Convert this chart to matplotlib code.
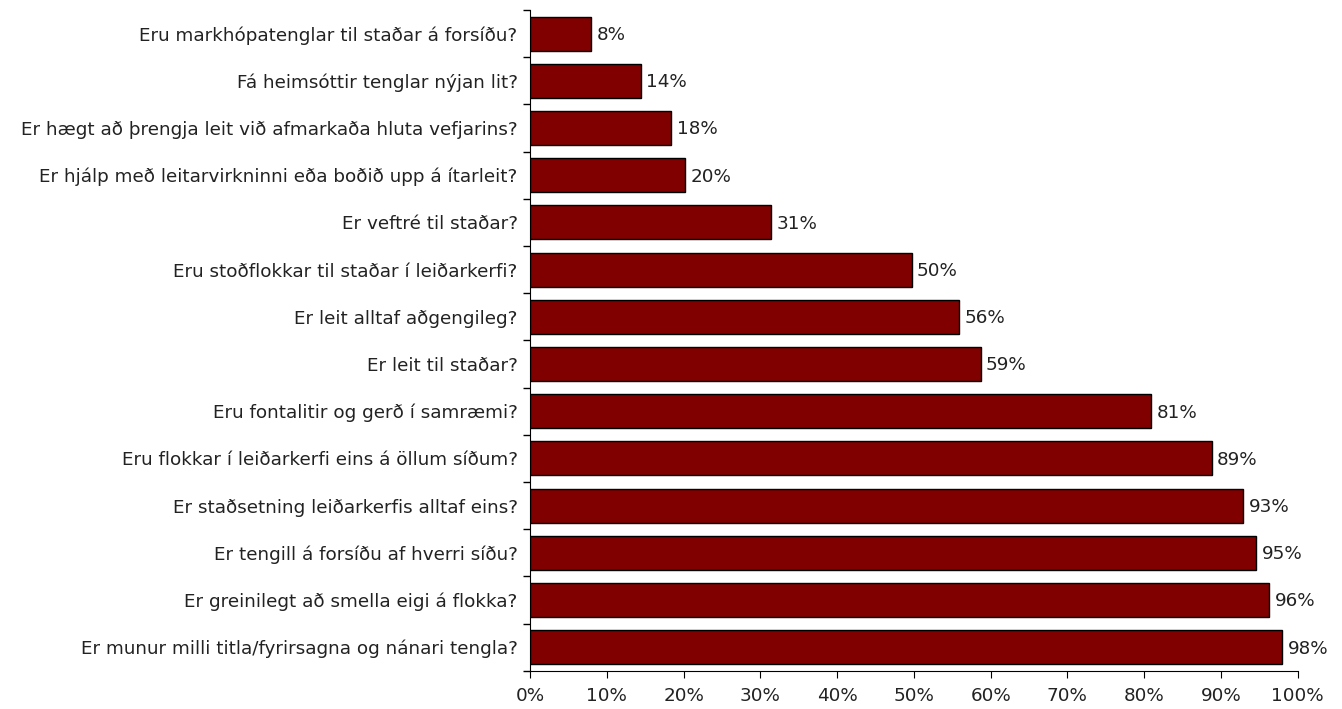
import numpy as np
import matplotlib
matplotlib.use('Agg')
import matplotlib.pyplot as plt
from matplotlib.ticker import FixedLocator, PercentFormatter

# questions from top to bottom
questions = [
    'Eru markhópatenglar til staðar á forsíðu?',
    'Fá heimsóttir tenglar nýjan lit?',
    'Er hægt að þrengja leit við afmarkaða hluta vefjarins?',
    'Er hjálp með leitarvirkninni eða boðið upp á ítarleit?',
    'Er veftré til staðar?',
    'Eru stoðflokkar til staðar í leiðarkerfi?',
    'Er leit alltaf aðgengileg?',
    'Er leit til staðar?',
    'Eru fontalitir og gerð í samræmi?',
    'Eru flokkar í leiðarkerfi eins á öllum síðum?',
    'Er staðsetning leiðarkerfis alltaf eins?',
    'Er tengill á forsíðu af hverri síðu?',
    'Er greinilegt að smella eigi á flokka?',
    'Er munur milli titla/fyrirsagna og nánari tengla?',
]
pct = [8.0, 14.4, 18.4, 20.2, 31.4, 49.7, 55.9, 58.7, 80.9, 88.8, 92.9, 94.6, 96.3, 98.0]

plt.rcParams['font.family'] = ['DejaVu Sans']
fs = 13.2

fig = plt.figure(figsize=(13.42, 7.09), dpi=100)
ax = fig.add_axes([0.395, 0.054, 0.572, 0.932])

y = np.arange(len(questions))
ax.barh(y, pct, height=0.72, color='#800000', edgecolor='black', linewidth=1)
for yi, v in zip(y, pct):
    ax.text(v + 0.7, yi + 0.03, '%d%%' % round(v), va='center', ha='left', fontsize=fs, color='#222222')

ax.set_ylim(len(questions) - 0.5, -0.5)
ax.set_xlim(0, 100)
ax.set_yticks(y)
ax.set_yticklabels(questions, fontsize=fs, color='#222222')
ax.tick_params(axis='y', which='major', length=0, pad=9)
ax.yaxis.set_minor_locator(FixedLocator(np.arange(-0.5, len(questions), 1)))
ax.tick_params(axis='y', which='minor', length=5, direction='out', width=1)

ax.set_xticks(np.arange(0, 101, 10))
ax.xaxis.set_major_formatter(PercentFormatter(decimals=0))
ax.tick_params(axis='x', length=5, direction='out', labelsize=fs, labelcolor='#222222', pad=7)

ax.spines['top'].set_visible(False)
ax.spines['right'].set_visible(False)

fig.savefig('out.png', dpi=100)
